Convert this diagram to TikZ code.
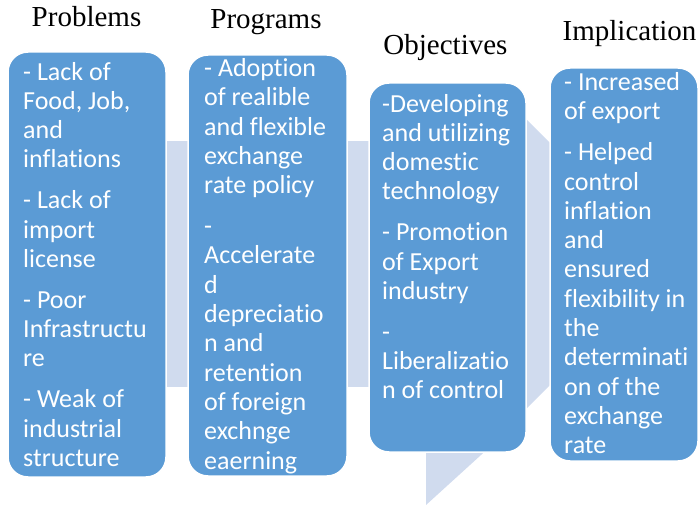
\documentclass[tikz,border=0pt]{standalone}
\usepackage{fontspec}
\setmainfont{Liberation Serif}
\newfontfamily\listfont[Ligatures=NoCommon]{Carlito}

\definecolor{stageblue}{RGB}{91,155,213}
\definecolor{bandblue}{RGB}{208,219,238}

\tikzset{
  stage/.style={fill=stageblue, draw=white, line width=1.5pt, rounded corners=20pt},
  heading/.style={anchor=base, inner sep=0pt, font=\fontsize{29}{32}\selectfont},
  items/.style={anchor=base west, align=left, inner sep=0pt, text=white,
    font=\listfont\fontsize{26}{29.3}\selectfont}
}

\begin{document}
\begin{tikzpicture}[x=1pt,y=-1pt]
\useasboundingbox (0,0) rectangle (699,505);
% bent arrow behind the stages
\fill[bandblue] (100,141) rectangle (527,387);
\fill[bandblue] (527,120) -- (671,264) -- (527,408) -- cycle;
\fill[bandblue] (426,440) -- (497.5,440) -- (426,505) -- cycle;
% the four stages
\draw[stage] (8,52) rectangle (166,477);
\draw[stage] (188,55) rectangle (347,476);
\draw[stage] (369,83) rectangle (526,452);
\draw[stage] (550,68) rectangle (698,461);
% headings
\node[heading] (problems) at (86.5,27) {Problems};
\node[heading] (programs) at (266,28.5) {Programs};
\node[heading] (objectives) at (445.5,54.5) {Objectives};
\node[heading] (implication) at (629.5,41) {Implication};
% stage contents (placed by the baseline of the last line)
\node[items] (problems-list) at (23,466.4) {- Lack of\\ Food, Job,\\ and\\ inflations\\[11.6pt]
  - Lack of\\ import\\ license\\[11.6pt] - Poor\\ Infrastructu\\ re\\[11.6pt]
  - Weak of\\ industrial\\ structure};
\node[items] (programs-list) at (204,469) {- Adoption\\ of realible\\ and flexible\\ exchange\\ rate policy\\[11.6pt]
  -\\ Accelerate\\ d\\ depreciatio\\ n and\\ retention\\ of foreign\\ exchnge\\ eaerning};
\node[items] (objectives-list) at (382,398.9) {-Developing\\ and utilizing\\ domestic\\ technology\\[11.6pt]
  - Promotion\\ of Export\\ industry\\[11.6pt] -\\ Liberalizatio\\ n of control};
\node[items] (implication-list) at (564,453.7) {- Increased\\ of export\\[11.6pt] - Helped\\ control\\ inflation\\ and\\ ensured\\
  flexibility in\\ the\\ determinati\\ on of the\\ exchange\\ rate};
\end{tikzpicture}
\end{document}
